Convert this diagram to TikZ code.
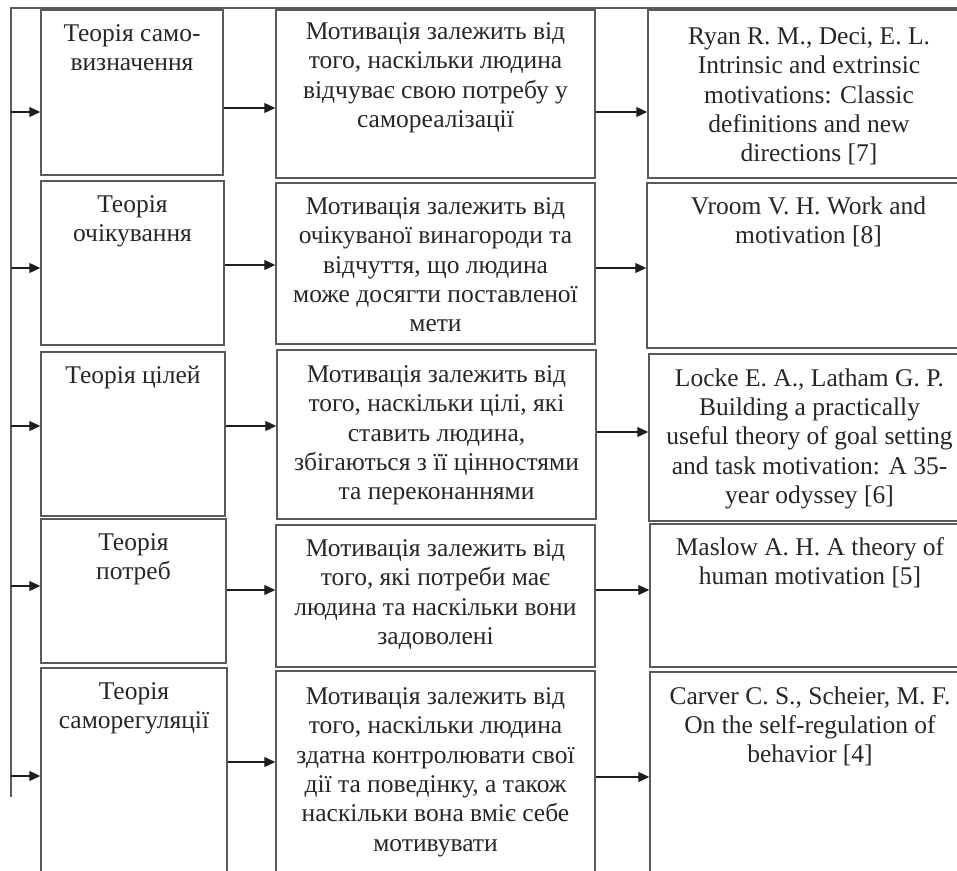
\documentclass[tikz,border=0pt]{standalone}
\usepackage{fontspec}
\setmainfont{Liberation Serif}
\usepackage{xcolor}
\usepackage{tikz}
\usetikzlibrary{arrows.meta, positioning, calc, fit}
\definecolor{frame}{HTML}{5A5A5A}
\definecolor{ink}{HTML}{262626}
\definecolor{wire}{HTML}{1E1E1E}

\begin{document}
\begin{tikzpicture}[
  x=1pt, y=-1pt,
  cell/.style={rectangle, draw=frame, line width=1.5pt, inner sep=0pt, fit={#1}},
  txt/.style={anchor=north, align=center, inner sep=0pt, text=ink,
    font=\fontsize{25.5}{29.4}\selectfont},
  ln/.style={draw=wire, line width=1.2pt},
  arr/.style={ln, -{Triangle[length=11pt, width=10pt]}},
]
  \useasboundingbox (0,0) rectangle (957,870);
  \clip (0,0) rectangle (957,870);

  % theories
  \node[cell={(41,10) (223,175)}] (c1r1) {};
  \node[cell={(41,181) (224,345)}] (c1r2) {};
  \node[cell={(41,352) (225,516)}] (c1r3) {};
  \node[cell={(41,519) (226,663)}] (c1r4) {};
  \node[cell={(41,668) (227,895)}] (c1r5) {};
  % what motivation depends on
  \node[cell={(276,10) (595,178)}] (c2r1) {};
  \node[cell={(276,183) (595,344)}] (c2r2) {};
  \node[cell={(277,350) (596,519)}] (c2r3) {};
  \node[cell={(276,525) (595,667)}] (c2r4) {};
  \node[cell={(276,671) (595,895)}] (c2r5) {};
  % sources
  \node[cell={(648,10) (970,178)}] (c3r1) {};
  \node[cell={(647,183) (970,348)}] (c3r2) {};
  \node[cell={(649,354) (970,521)}] (c3r3) {};
  \node[cell={(650,524) (970,667)}] (c3r4) {};
  \node[cell={(650,672) (970,895)}] (c3r5) {};

  \node[txt] (t1r1) at ([yshift=-15pt]c1r1.north) {Теорія само-\\визначення};
  \node[txt] (t1r2) at ([yshift=-15pt]c1r2.north) {Теорія\\очікування};
  \node[txt] (t1r3) at ([yshift=-15pt]c1r3.north) {Теорія цілей};
  \node[txt] (t1r4) at ([yshift=-15pt]c1r4.north) {Теорія\\потреб};
  \node[txt] (t1r5) at ([yshift=-15pt]c1r5.north) {Теорія\\саморегуляції};

  \node[txt] (t2r1) at ([yshift=-13pt]c2r1.north) {Мотивація залежить від\\того, наскільки людина\\відчуває свою потребу у\\самореалізації};
  \node[txt] (t2r2) at ([yshift=-15pt]c2r2.north) {Мотивація залежить від\\очікуваної винагороди та\\відчуття, що людина\\може досягти поставленої\\мети};
  \node[txt] (t2r3) at ([yshift=-16pt]c2r3.north) {Мотивація залежить від\\того, наскільки цілі, які\\ставить людина,\\збігаються з її цінностями\\та переконаннями};
  \node[txt] (t2r4) at ([yshift=-15pt]c2r4.north) {Мотивація залежить від\\того, які потреби має\\людина та наскільки вони\\задоволені};
  \node[txt] (t2r5) at ([yshift=-17pt]c2r5.north) {Мотивація залежить від\\того, наскільки людина\\здатна контролювати свої\\дії та поведінку, а також\\наскільки вона вміє себе\\мотивувати};

  \node[txt] (t3r1) at ([yshift=-18pt]c3r1.north) {Ryan R. M., Deci, E. L.\\Intrinsic and extrinsic\\motivations: Classic\\definitions and new\\directions [7]};
  \node[txt] (t3r2) at ([yshift=-14pt]c3r2.north) {Vroom V. H. Work and\\motivation [8]};
  \node[txt] (t3r3) at ([yshift=-15pt]c3r3.north) {Locke E. A., Latham G. P.\\Building a practically\\useful theory of goal setting\\and task motivation: A 35-\\year odyssey [6]};
  \node[txt] (t3r4) at ([yshift=-14pt]c3r4.north) {Maslow A. H. A theory of\\human motivation [5]};
  \node[txt] (t3r5) at ([yshift=-15pt]c3r5.north) {Carver C. S., Scheier, M. F.\\On the self-regulation of\\behavior [4]};

  % trunk and top rule
  \coordinate (trunktop) at (11,8);
  \coordinate (trunkend) at (11,797);
  \coordinate (topend) at (970,8);
  \draw[ln, draw=frame, line width=1.5pt] (topend) -- (trunktop) -- (trunkend);

  \foreach \r/\ya/\yb/\yc in {1/112/108/112, 2/268/265/268, 3/426/426/432, 4/586/590/590, 5/776/762/777} {
    \coordinate (b\r) at (11,\ya);
    \coordinate (h\r) at (0,\yb);
    \coordinate (k\r) at (0,\yc);
    \draw[arr] (b\r) -- (c1r\r.west |- b\r);
    \draw[arr] (c1r\r.east |- h\r) -- (c2r\r.west |- h\r);
    \draw[arr] (c2r\r.east |- k\r) -- (c3r\r.west |- k\r);
  }
\end{tikzpicture}
\end{document}
